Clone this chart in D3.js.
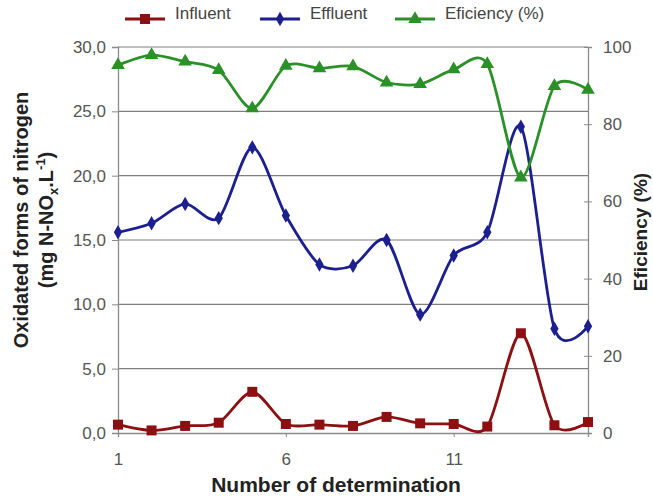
<!DOCTYPE html>
<html>
<head>
<meta charset="utf-8">
<script src="https://cdn.jsdelivr.net/npm/d3@7"></script>
<style>
  body { margin: 0; background: #fff; }
  svg { font-family: "Liberation Sans", Arial, sans-serif; }
</style>
</head>
<body>
<div id="chart"></div>
<script>
// determination number 1..15
const determinations = [1, 2, 3, 4, 5, 6, 7, 8, 9, 10, 11, 12, 13, 14, 15];
const influent = [0.65, 0.2, 0.55, 0.8, 3.2, 0.7, 0.65, 0.55, 1.25, 0.75, 0.7, 0.5, 7.75, 0.6, 0.85];
const effluent = [15.6, 16.3, 17.8, 16.7, 22.2, 16.9, 13.1, 13.0, 15.0, 9.2, 13.8, 15.6, 23.8, 8.1, 8.3];
const efficiency = [95.3, 97.9, 96.2, 94.0, 84.1, 95.1, 94.5, 95.0, 90.8, 90.4, 94.2, 95.6, 66.2, 89.9, 88.9];
const leftTicks = [0, 5, 10, 15, 20, 25, 30];
const rightTicks = [0, 20, 40, 60, 80, 100];
const xTicks = [1, 6, 11];

const margin = { top: 47, right: 65, bottom: 64, left: 118 };
const W = 653, H = 497;
const width = W - margin.left - margin.right;
const height = H - margin.top - margin.bottom;

const svg = d3.select("#chart").append("svg")
    .attr("width", W).attr("height", H);

const g = svg.append("g")
    .attr("transform", `translate(${margin.left},${margin.top})`);

const x = d3.scaleLinear().domain([1, 15]).range([0, width]);
const y = d3.scaleLinear().domain([0, 30]).range([height, 0]);
const y2 = d3.scaleLinear().domain([0, 100]).range([height, 0]);

// horizontal gridlines
g.selectAll(".grid").data(leftTicks.slice(1))
  .enter().append("line")
    .attr("x1", 0).attr("x2", width)
    .attr("y1", d => y(d)).attr("y2", d => y(d))
    .attr("stroke", "#7f7f7f").attr("stroke-width", 1.2);

// left axis
const yAxis = g.append("g")
    .call(d3.axisLeft(y).tickValues(leftTicks).tickSize(6).tickPadding(6)
      .tickFormat(d => d3.format(".1f")(d).replace(".", ",")));
// right axis
const y2Axis = g.append("g")
    .attr("transform", `translate(${width},0)`)
    .call(d3.axisRight(y2).tickValues(rightTicks).tickSize(4).tickPadding(11));
// x axis
const xAxis = g.append("g")
    .attr("transform", `translate(0,${height})`)
    .call(d3.axisBottom(x).tickValues(xTicks).tickSize(4).tickPadding(16));

[yAxis, y2Axis, xAxis].forEach(a => {
  a.select(".domain").attr("stroke", "#8a8a8a").attr("stroke-width", 1.3);
  a.selectAll(".tick line").attr("stroke", "#8a8a8a");
  a.selectAll("text").attr("fill", "#555").style("font-size", "17px");
});
y2Axis.selectAll(".tick line").attr("x1", -4);

const curve = d3.curveCardinal.tension(0.15);

function drawSeries(values, scale, color, shape, size) {
  const line = d3.line()
      .x((d, i) => x(determinations[i]))
      .y(d => scale(d))
      .curve(curve);
  g.append("path")
      .datum(values)
      .attr("fill", "none")
      .attr("stroke", color)
      .attr("stroke-width", 2.8)
      .attr("d", line);
  g.selectAll(null).data(values)
    .enter().append("path")
      .attr("transform", (d, i) => `translate(${x(determinations[i])},${scale(d)})`)
      .attr("d", d3.symbol().type(shape).size(size))
      .attr("fill", color);
}

drawSeries(influent, y, "#8c0f12", d3.symbolSquare, 100);
drawSeries(effluent, y, "#1c1f8f", d3.symbolDiamond, 60);
drawSeries(efficiency, y2, "#2a9128", d3.symbolTriangle, 80);

// axis titles
const leftTitle = svg.append("text")
    .attr("transform", "translate(28,220) rotate(-90)")
    .attr("text-anchor", "middle")
    .style("font-size", "20px").style("font-weight", "bold").attr("fill", "#222");
leftTitle.append("tspan").attr("x", 0).attr("dy", 0).text("Oxidated forms of nitrogen");
leftTitle.append("tspan").attr("x", 0).attr("dy", 25).text("(mg N-NO");
leftTitle.append("tspan").attr("dy", 5).style("font-size", "13px").text("x");
leftTitle.append("tspan").attr("dy", -5).text(".L");
leftTitle.append("tspan").attr("dy", -8).style("font-size", "13px").text("-1");
leftTitle.append("tspan").attr("dy", 8).text(")");

svg.append("text")
    .attr("transform", "translate(647,232) rotate(-90)")
    .attr("text-anchor", "middle")
    .style("font-size", "19px").style("font-weight", "bold").attr("fill", "#222")
    .text("Eficiency (%)");

svg.append("text")
    .attr("x", 336).attr("y", 492)
    .attr("text-anchor", "middle")
    .style("font-size", "21px").style("font-weight", "bold").attr("fill", "#222")
    .text("Number of determination");

// legend
const legendItems = [
  { name: "Influent", color: "#8c0f12", shape: d3.symbolSquare, size: 100, x: 125 },
  { name: "Effluent", color: "#1c1f8f", shape: d3.symbolDiamond, size: 60, x: 260 },
  { name: "Eficiency (%)", color: "#2a9128", shape: d3.symbolTriangle, size: 80, x: 395 }
];
const legend = svg.append("g");
legendItems.forEach(item => {
  const lg = legend.append("g").attr("transform", `translate(${item.x},19)`);
  lg.append("line").attr("x1", 0).attr("x2", 40).attr("stroke", item.color).attr("stroke-width", 3);
  lg.append("path").attr("transform", "translate(20,0)")
    .attr("d", d3.symbol().type(item.shape).size(item.size)).attr("fill", item.color);
  lg.append("text").attr("x", 50).attr("y", -2).attr("dy", "0.1em")
    .style("font-size", "17px").attr("fill", "#444").text(item.name);
});
</script>
</body>
</html>
